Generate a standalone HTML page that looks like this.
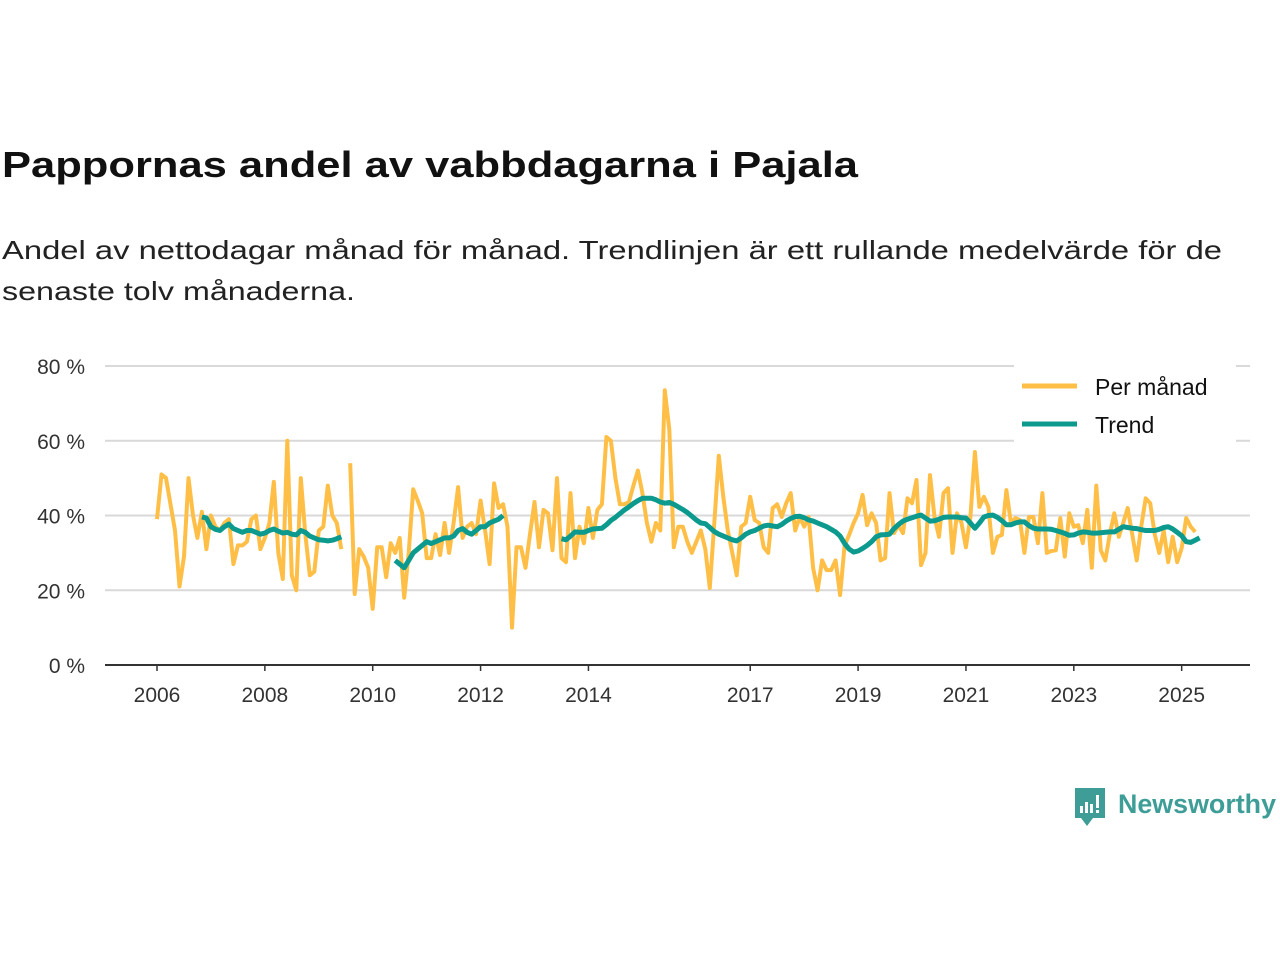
<!DOCTYPE html>
<html><head><meta charset="utf-8"><style>
html,body{margin:0;padding:0;background:#fff;}
svg{display:block;font-family:"Liberation Sans","DejaVu Sans",sans-serif;}
</style></head><body>
<svg id="chart" width="1280" height="960" viewBox="0 0 1280 960">
<text x="2" y="177" font-size="36" font-weight="bold" fill="#111" textLength="856" lengthAdjust="spacingAndGlyphs">Pappornas andel av vabbdagarna i Pajala</text>
<text x="2" y="259" font-size="26" fill="#222" textLength="1220" lengthAdjust="spacingAndGlyphs">Andel av nettodagar månad för månad. Trendlinjen är ett rullande medelvärde för de</text>
<text x="2" y="300" font-size="26" fill="#222" textLength="353" lengthAdjust="spacingAndGlyphs">senaste tolv månaderna.</text>
<g id="grid"></g>
<g id="yticks"></g>
<g id="xticks"></g>
<g id="series"></g>
<g>
<rect x="1014" y="362" width="222" height="80" fill="#fff"/>
<line x1="1022" y1="386" x2="1077" y2="386" stroke="#FFBF47" stroke-width="5"/>
<text x="1095" y="395" font-size="23" fill="#111">Per månad</text>
<line x1="1022" y1="424" x2="1077" y2="424" stroke="#0B9A8D" stroke-width="5"/>
<text x="1095" y="433" font-size="23" fill="#111">Trend</text>
</g>
<g>
<path d="M1075 788 h30 v30 h-12 l-6 8 l-6 -8 h-6 z" fill="#3E9E97"/>
<rect x="1080" y="806" width="3" height="7" fill="#fff"/>
<rect x="1085" y="802" width="3" height="11" fill="#fff"/>
<rect x="1090" y="804" width="3" height="9" fill="#fff"/>
<rect x="1096" y="795" width="3" height="13" fill="#fff"/>
<rect x="1096" y="810" width="3" height="3" fill="#fff"/>
<text x="1118" y="813" font-size="27" font-weight="bold" fill="#3E9E97" textLength="158" lengthAdjust="spacingAndGlyphs">Newsworthy</text>
</g>
</svg>
<script>
// Monthly data starting Jan 2006 (index 0); null = missing
const yTicks = [0, 20, 40, 60, 80];
const yTickLabels = ["0 %", "20 %", "40 %", "60 %", "80 %"];
const xTickYears = [2006, 2008, 2010, 2012, 2014, 2017, 2019, 2021, 2023, 2025];
const perManad = [
39,51,50,43,36,21,29,50,40,34,41,31,40,37,36,38,39,27,32,32,33,39,40,31,34,38,49,30,23,60,24,20,50,35,24,25,36,37,48,40,38,31,
null,
54,19,31,29,26,15,31.5,31.5,23.5,32.6,30,34,18,30,47,44,40.6,28.6,28.6,35,29.4,38,30,38,47.6,34,37,38,35,44,36,27,48.6,42,43,
37,10,31.5,31.5,26,35,43.6,31.5,41.5,40.6,30.7,50,28.6,27.5,46,28.6,37,32.6,42,34,41.5,43,61,60,50,43,43,43.6,48,52,46,38,33,38,36,73.5,63,31.5,37,37,33,30,33,36,31,20.6,38,56,45,36,30,24,37,38,45,38.8,38,31.5,30,42,43,39.6,43.3,46,36,39.6,37,39.6,26,20,28,25.4,25.4,28,18.7,32,34.8,38,40.6,45.5,37.4,40.6,38,28,28.6,46,35.3,37.4,35.3,44.6,43.3,49.5,26.7,30,50.8,39.6,34.3,46,47.3,30,40.6,38,31.5,39.6,57,42.3,45,42.3,30,34.3,34.8,46.8,38,39.3,38.8,30,39.6,39.6,32.6,46,30,30.5,30.7,39.3,29,40.6,37,37.4,32.6,41.5,26,48,30.7,28,35,40.6,34.3,38,42,35,28,37,44.6,43.3,35,30,36,27.5,34.3,27.5,31.3,39.3,37,35.6
];
const trendSeg1 = [39.6,39.3,37,36.3,36,37,37.7,36.5,36,35.5,36,36,35.5,35,35.3,36,36.4,35.8,35.3,35.5,35,34.8,36,35.5,34.5,34,33.5,33.4,33.2,33.4,33.8,34.3];
const trendSeg2 = [28,27,26,28,30,31,32,33,32.5,33,33.5,34,34,34.5,36,36.5,35.5,35,36,37,37,38,38.5,39,40];
const trendSeg3 = [33.8,33.5,34.5,35.6,35.5,35.5,36,36.4,36.5,36.6,37.5,38.7,39.5,40.5,41.5,42.3,43.2,44,44.6,44.6,44.6,44.2,43.6,43.3,43.5,43,42.3,41.6,40.8,39.8,38.8,38,37.8,36.8,35.7,35,34.5,34,33.5,33.2,34,35,35.6,36,36.6,37.2,37.4,37.2,37,37.6,38.5,39.2,39.7,39.8,39.4,38.8,38.5,38,37.5,37,36.3,35.6,34.5,32.5,31,30.2,30.5,31.2,32,33,34.3,34.8,34.9,35,36.5,37.6,38.5,39,39.4,39.8,40.1,39.3,38.5,38.6,39,39.5,39.6,39.6,39.6,39.4,39.3,38,36.6,38,39.6,40,40.1,39.5,38.6,37.5,37.5,38,38.3,38.3,37.3,36.6,36.4,36.4,36.4,36.3,36,35.6,35.2,34.7,34.8,35.3,35.6,35.5,35.3,35.3,35.4,35.5,35.6,35.6,36.3,37,36.8,36.6,36.5,36.2,36,36,36,36.3,36.8,37,36.4,35.5,34.6,33,32.8,33.4,34];
const trendStarts = [10, 53, 90];

const NS = "http://www.w3.org/2000/svg";
const X0 = 157, PX_PER_YEAR = 53.93;
function xScale(monthIndex){ return X0 + monthIndex * PX_PER_YEAR / 12; }
function xYear(year){ return xScale((year - 2006) * 12); }
function yScale(v){ return 665 - v * (299 / 80); }
function mk(tag, attrs, parent){ const e = document.createElementNS(NS, tag); for (const k in attrs) e.setAttribute(k, attrs[k]); parent.appendChild(e); return e; }

const grid = document.getElementById('grid');
const yt = document.getElementById('yticks');
yTicks.forEach((v, i) => {
  if (v > 0) {
    const l = mk('line', {x1:105, x2:1250, y1:yScale(v), y2:yScale(v), stroke:'#d9d9d9', 'stroke-width':2}, grid);
    
    
  }
  const t = mk('text', {x:85, y:yScale(v) + 8, 'text-anchor':'end', 'font-size':21, fill:'#333'}, yt);
  t.textContent = yTickLabels[i];
  
  
});
const xt = document.getElementById('xticks');
const axis = mk('line', {x1:105, x2:1250, y1:665, y2:665, stroke:'#333', 'stroke-width':2}, xt);


xTickYears.forEach(yr => {
  const x = xYear(yr);
  const tk = mk('line', {x1:x, x2:x, y1:665, y2:671, stroke:'#333', 'stroke-width':1.5}, xt);
  
  
  const t = mk('text', {x:x, y:702, 'text-anchor':'middle', 'font-size':21, fill:'#333'}, xt);
  t.textContent = yr;
  
  
});

function pathFrom(vals, start){
  let d = '', pen = false;
  vals.forEach((v, i) => {
    if (v === null) { pen = false; return; }
    d += (pen ? 'L' : 'M') + xScale(start + i).toFixed(1) + ' ' + yScale(v).toFixed(1);
    pen = true;
  });
  return d;
}
const series = document.getElementById('series');
const pm = mk('path', {d:pathFrom(perManad, 0), fill:'none', stroke:'#FFBF47', 'stroke-width':4, 'stroke-linejoin':'round'}, series);


[trendSeg1, trendSeg2, trendSeg3].forEach((seg, i) => {
  const p = mk('path', {d:pathFrom(seg, trendStarts[i]), fill:'none', stroke:'#0B9A8D', 'stroke-width':5, 'stroke-linejoin':'round'}, series);
  
  
});
</script>
</body></html>
